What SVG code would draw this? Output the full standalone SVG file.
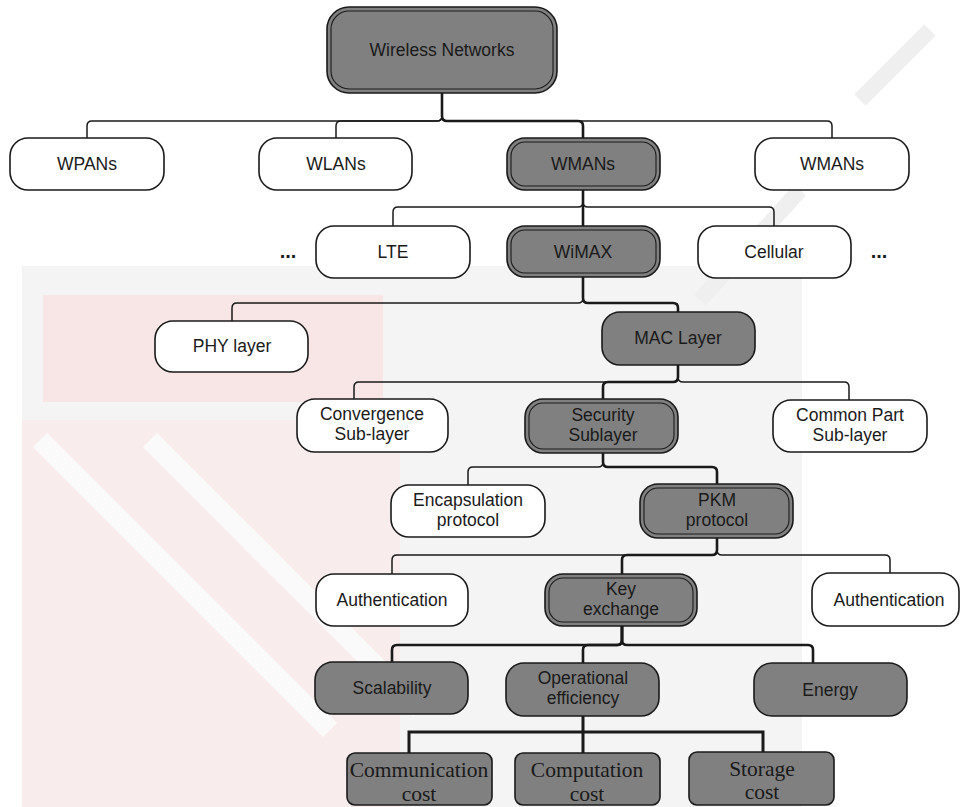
<svg xmlns="http://www.w3.org/2000/svg" width="961" height="807" viewBox="0 0 961 807">
<style>
  .bg { fill: #ffffff; }
  .wm { fill: #f4f4f4; }
  .wmp { fill: #f8e6e6; }
  .wmq { fill: #f9ecec; }
  .wms { fill: none; stroke: #fbfafa; stroke-width: 20; }
  .wmg { fill: none; stroke: #efefef; stroke-width: 16; }
  .w { fill: #ffffff; stroke: #1a1a1a; stroke-width: 1.6; }
  .g { fill: #808080; stroke: #1a1a1a; stroke-width: 1.6; }
  .gi { fill: none; stroke: #1a1a1a; stroke-width: 1.1; }
  .t { font-family: "Liberation Sans", Arial, sans-serif; font-size: 17.5px; fill: #1a1a1a; text-anchor: middle; }
  .s { font-family: "Liberation Serif", "Times New Roman", serif; font-size: 21.5px; fill: #1a1a1a; text-anchor: middle; }
  .d { font-family: "Liberation Sans", Arial, sans-serif; font-size: 20px; font-weight: bold; fill: #1a1a1a; text-anchor: middle; }
  .thin { fill: none; stroke: #1a1a1a; stroke-width: 1.5; }
  .thick { fill: none; stroke: #1a1a1a; stroke-width: 2.6; }
  .sq { fill: none; stroke: #1a1a1a; stroke-width: 3; }
</style>
<rect class="bg" x="0" y="0" width="961" height="807"/>
<g id="watermark">
  <rect class="wm" x="22" y="266" width="780" height="541"/>
  <rect class="wmp" x="43" y="295" width="340" height="107"/>
  <path class="wmq" d="M22 420 L400 420 L400 807 L22 807 Z"/>
  <path class="wms" d="M40 440 L330 730"/>
  <path class="wms" d="M150 440 L420 710"/>
  <path class="wmg" d="M860 100 L930 30"/>
  <path class="wmg" d="M700 300 L800 190"/>
</g>
<g id="connectors">
  <path class="thin" d="M442 93 V116 Q442 121 437 121 H92 Q87 121 87 126 V138"/>
  <path class="thin" d="M442 93 V116 Q442 121 437 121 H341 Q336 121 336 126 V138"/>
  <path class="thin" d="M442 93 V116 Q442 121 447 121 H827 Q832 121 832 126 V138"/>
  <path class="thick" d="M442 93 V116 Q442 121 447 121 H578 Q583 121 583 126 V138"/>
  <path class="thin" d="M583 190 V202 Q583 207 578 207 H398 Q393 207 393 212 V226"/>
  <path class="thin" d="M583 190 V202 Q583 207 588 207 H769 Q774 207 774 212 V226"/>
  <path class="thick" d="M583 190 V226"/>
  <path class="thin" d="M583 276 V298 Q583 303 578 303 H237 Q232 303 232 308 V321"/>
  <path class="thick" d="M583 276 V298 Q583 303 588 303 H673 Q678 303 678 308 V312"/>
  <path class="thin" d="M678 365 V377 Q678 382 673 382 H359 Q354 382 354 387 V399"/>
  <path class="thin" d="M678 365 V377 Q678 382 683 382 H844 Q849 382 849 387 V400"/>
  <path class="thick" d="M678 365 V377 Q678 382 673 382 H608 Q603 382 603 387 V399"/>
  <path class="thin" d="M603 453 V462 Q603 467 598 467 H473 Q468 467 468 472 V485"/>
  <path class="thick" d="M603 453 V462 Q603 467 608 467 H712 Q717 467 717 472 V484"/>
  <path class="thin" d="M717 538 V550 Q717 555 712 555 H397 Q392 555 392 560 V574"/>
  <path class="thin" d="M717 538 V550 Q717 555 722 555 H885 Q890 555 890 560 V573"/>
  <path class="thick" d="M717 538 V550 Q717 555 712 555 H627 Q622 555 622 560 V574"/>
  <path class="thick" d="M622 626 V640 Q622 645 617 645 H397 Q392 645 392 650 V662"/>
  <path class="thick" d="M622 626 V640 Q622 645 617 645 H588 Q583 645 583 650 V663"/>
  <path class="thick" d="M622 626 V640 Q622 645 627 645 H808 Q813 645 813 650 V663"/>
  <path class="sq" d="M583 716 V753"/>
  <path class="sq" d="M409 753 V732 H763 V752"/>
</g>
<g id="n-wireless">
  <rect class="g" x="327" y="7" width="230" height="86" rx="22"/>
  <rect class="gi" x="331" y="11" width="222" height="78" rx="18"/>
  <text class="t" x="442" y="56">Wireless Networks</text>
</g>
<g id="n-wpans">
  <rect class="w" x="10" y="138" width="154" height="52" rx="18"/>
  <text class="t" x="87" y="170">WPANs</text>
</g>
<g id="n-wlans">
  <rect class="w" x="259" y="138" width="153" height="52" rx="18"/>
  <text class="t" x="336" y="170">WLANs</text>
</g>
<g id="n-wmans">
  <rect class="g" x="507" y="138" width="153" height="52" rx="18"/>
  <rect class="gi" x="511" y="142" width="145" height="44" rx="14"/>
  <text class="t" x="583" y="170">WMANs</text>
</g>
<g id="n-wmans2">
  <rect class="w" x="755" y="138" width="154" height="52" rx="18"/>
  <text class="t" x="832" y="170">WMANs</text>
</g>
<g id="n-dots-left">
  <text class="d" x="288" y="258">...</text>
</g>
<g id="n-lte">
  <rect class="w" x="316" y="226" width="154" height="52" rx="18"/>
  <text class="t" x="393" y="258">LTE</text>
</g>
<g id="n-wimax">
  <rect class="g" x="507" y="226" width="153" height="51" rx="18"/>
  <rect class="gi" x="511" y="230" width="145" height="43" rx="14"/>
  <text class="t" x="583" y="258">WiMAX</text>
</g>
<g id="n-cellular">
  <rect class="w" x="698" y="226" width="153" height="52" rx="18"/>
  <text class="t" x="774" y="258">Cellular</text>
</g>
<g id="n-dots-right">
  <text class="d" x="879" y="258">...</text>
</g>
<g id="n-phy">
  <rect class="w" x="155" y="321" width="153" height="51" rx="18"/>
  <text class="t" x="232" y="352">PHY layer</text>
</g>
<g id="n-mac">
  <rect class="g" x="602" y="312" width="153" height="53" rx="18"/>
  <text class="t" x="678" y="344">MAC Layer</text>
</g>
<g id="n-convergence">
  <rect class="w" x="297" y="399" width="151" height="53" rx="18"/>
  <text class="t" x="372" y="420">Convergence</text>
  <text class="t" x="372" y="440">Sub-layer</text>
</g>
<g id="n-security">
  <rect class="g" x="525" y="399" width="153" height="54" rx="18"/>
  <rect class="gi" x="529" y="403" width="145" height="46" rx="14"/>
  <text class="t" x="603" y="421">Security</text>
  <text class="t" x="603" y="441">Sublayer</text>
</g>
<g id="n-commonpart">
  <rect class="w" x="773" y="400" width="154" height="52" rx="18"/>
  <text class="t" x="850" y="421">Common Part</text>
  <text class="t" x="850" y="441">Sub-layer</text>
</g>
<g id="n-encapsulation">
  <rect class="w" x="391" y="485" width="154" height="52" rx="18"/>
  <text class="t" x="468" y="506">Encapsulation</text>
  <text class="t" x="468" y="526">protocol</text>
</g>
<g id="n-pkm">
  <rect class="g" x="640" y="484" width="153" height="54" rx="18"/>
  <rect class="gi" x="644" y="488" width="145" height="46" rx="14"/>
  <text class="t" x="717" y="506">PKM</text>
  <text class="t" x="717" y="526">protocol</text>
</g>
<g id="n-auth-left">
  <rect class="w" x="316" y="574" width="152" height="52" rx="18"/>
  <text class="t" x="392" y="606">Authentication</text>
</g>
<g id="n-keyexchange">
  <rect class="g" x="545" y="574" width="152" height="52" rx="18"/>
  <rect class="gi" x="549" y="578" width="144" height="44" rx="14"/>
  <text class="t" x="621" y="595">Key</text>
  <text class="t" x="621" y="615">exchange</text>
</g>
<g id="n-auth-right">
  <rect class="w" x="812" y="573" width="147" height="53" rx="18"/>
  <text class="t" x="889" y="606">Authentication</text>
</g>
<g id="n-scalability">
  <rect class="g" x="315" y="662" width="153" height="52" rx="18"/>
  <text class="t" x="392" y="694">Scalability</text>
</g>
<g id="n-operational">
  <rect class="g" x="506" y="663" width="153" height="53" rx="18"/>
  <text class="t" x="583" y="684">Operational</text>
  <text class="t" x="583" y="704">efficiency</text>
</g>
<g id="n-energy">
  <rect class="g" x="754" y="663" width="153" height="53" rx="18"/>
  <text class="t" x="830" y="696">Energy</text>
</g>
<g id="n-communication">
  <rect class="g" x="347" y="753" width="145" height="52" rx="8"/>
  <text class="s" x="419" y="777">Communication</text>
  <text class="s" x="419" y="801">cost</text>
</g>
<g id="n-computation">
  <rect class="g" x="515" y="753" width="145" height="52" rx="8"/>
  <text class="s" x="587" y="777">Computation</text>
  <text class="s" x="587" y="801">cost</text>
</g>
<g id="n-storage">
  <rect class="g" x="689" y="752" width="145" height="53" rx="8"/>
  <text class="s" x="762" y="776">Storage</text>
  <text class="s" x="762" y="799">cost</text>
</g>
</svg>
